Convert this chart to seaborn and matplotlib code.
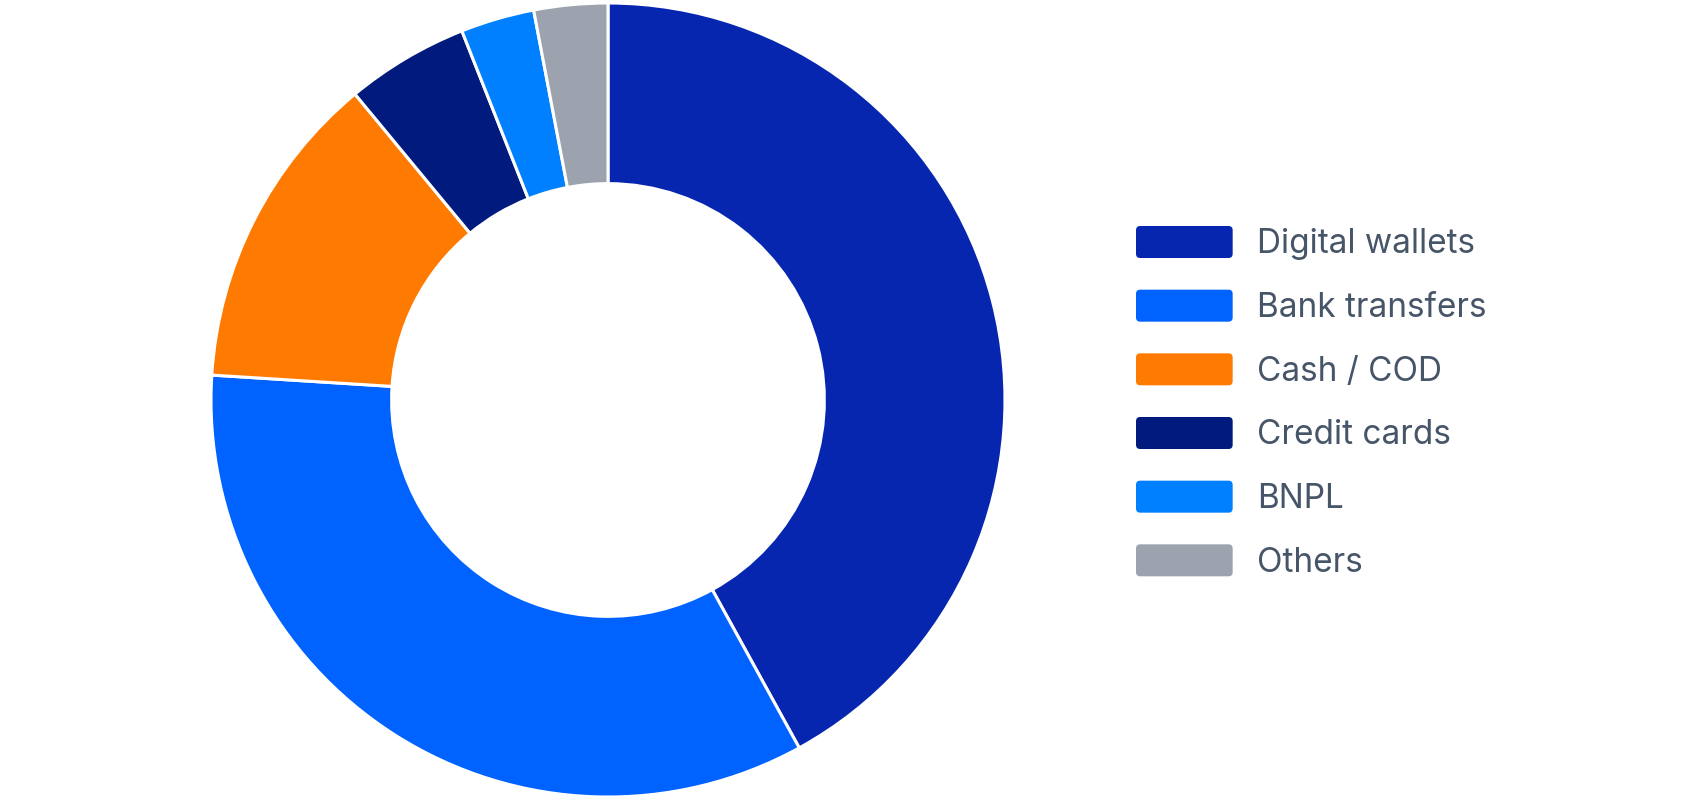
import matplotlib
matplotlib.use("Agg")
import matplotlib.pyplot as plt
import seaborn as sns
from matplotlib.patches import FancyBboxPatch
from matplotlib.legend_handler import HandlerPatch

# ---------------------------------------------------------------------------
# Data (share of payment methods, %)
# ---------------------------------------------------------------------------
methods = ["Digital wallets", "Bank transfers", "Cash / COD",
           "Credit cards", "BNPL", "Others"]
shares = [42, 34, 13, 5, 3, 3]
colors = ["#0626B0", "#0063FF", "#FF7A00", "#001A7D", "#0080FF", "#9CA3AF"]

TEXT_COLOR = "#475569"

sns.set_theme(style="white")
plt.rcParams["font.family"] = ["Inter", "DejaVu Sans"]


class RoundedHandler(HandlerPatch):
    """Legend swatch drawn as a small rounded rectangle."""

    def create_artists(self, legend, orig_handle, xdescent, ydescent,
                       width, height, fontsize, trans):
        p = FancyBboxPatch((-xdescent, -ydescent), width, height,
                           boxstyle="round,pad=0,rounding_size=3",
                           facecolor=orig_handle.get_facecolor(),
                           edgecolor="none", transform=trans)
        return [p]


W, H = 1688, 800
fig = plt.figure(figsize=(W / 100, H / 100), dpi=100)

cx, cy, r = 608, 400, 397
ax = fig.add_axes([(cx - r) / W, (H - cy - r) / H, 2 * r / W, 2 * r / H])

wedges, _ = ax.pie(shares, colors=colors, startangle=90, counterclock=False,
                   radius=1.0,
                   wedgeprops=dict(width=0.455, edgecolor="white",
                                   linewidth=2.2))
ax.set_xlim(-1, 1)
ax.set_ylim(-1, 1)
ax.set_aspect("equal")
ax.axis("off")

leg = fig.legend(wedges, methods, loc="upper left",
                 bbox_to_anchor=(1136 / W, 1 - 226 / H),
                 frameon=False, fontsize=24, handlelength=2.9,
                 handleheight=1.1, handletextpad=0.72, labelspacing=0.88,
                 borderpad=0, borderaxespad=0,
                 handler_map={w: RoundedHandler() for w in wedges})
for t in leg.get_texts():
    t.set_color(TEXT_COLOR)

fig.savefig("out.png", dpi=100, facecolor="white")
